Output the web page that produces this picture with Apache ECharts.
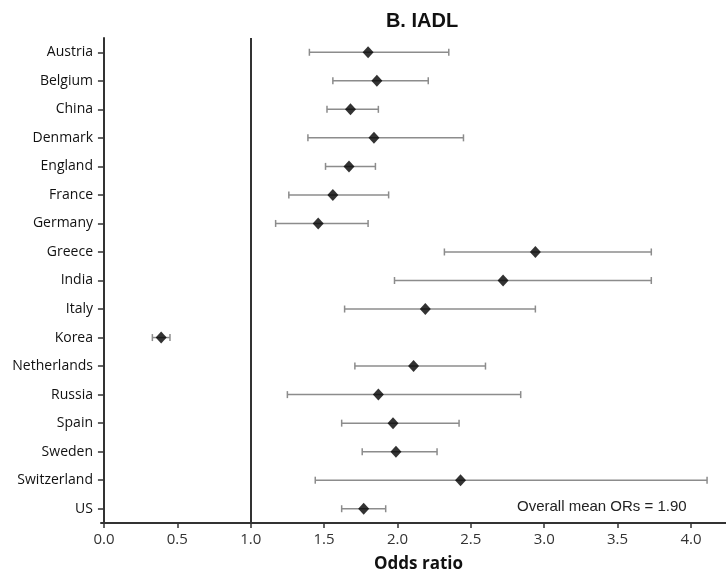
<!DOCTYPE html>
<html>
<head>
<meta charset="utf-8">
<style>
  html, body { margin: 0; padding: 0; background: #fff; }
  #chart { width: 726px; height: 575px; }
</style>
<script src="https://cdn.jsdelivr.net/npm/echarts@6/dist/echarts.min.js"></script>
</head>
<body>
<div id="chart"></div>
<script>
// ---- data ----
var countries = ['Austria', 'Belgium', 'China', 'Denmark', 'England', 'France', 'Germany', 'Greece',
  'India', 'Italy', 'Korea', 'Netherlands', 'Russia', 'Spain', 'Sweden', 'Switzerland', 'US'];
var oddsRatio = [1.80, 1.86, 1.68, 1.84, 1.67, 1.56, 1.46, 2.94, 2.72, 2.19, 0.39, 2.11, 1.87, 1.97, 1.99, 2.43, 1.77];
var ciLow     = [1.40, 1.56, 1.52, 1.39, 1.51, 1.26, 1.17, 2.32, 1.98, 1.64, 0.33, 1.71, 1.25, 1.62, 1.76, 1.44, 1.62];
var ciHigh    = [2.35, 2.21, 1.87, 2.45, 1.85, 1.94, 1.80, 3.73, 3.73, 2.94, 0.45, 2.60, 2.84, 2.42, 2.27, 4.11, 1.92];
var xTicks = [0, 0.5, 1, 1.5, 2, 2.5, 3, 3.5, 4];
var refLine = 1.0;
var meanText = 'Overall mean ORs = 1.90';

var FONT = '"Open Sans", "DejaVu Sans", sans-serif';
var ARIAL = '"Liberation Sans", Arial, sans-serif';

var chart = echarts.init(document.getElementById('chart'));

var ciData = countries.map(function(c, i) { return [c, ciLow[i], ciHigh[i]]; });
var pointData = countries.map(function(c, i) { return [oddsRatio[i], c]; });

// 误差线：横线 + 两端短竖线
function renderCI(params, api) {
  var y = api.value(0);
  var p1 = api.coord([api.value(1), y]);
  var p2 = api.coord([api.value(2), y]);
  var cap = 3.5;
  var style = { stroke: '#8c8c8c', lineWidth: 1.5 };
  return {
    type: 'group',
    children: [
      { type: 'line', shape: { x1: p1[0], y1: p1[1], x2: p2[0], y2: p2[1] }, style: style },
      { type: 'line', shape: { x1: p1[0], y1: p1[1] - cap, x2: p1[0], y2: p1[1] + cap }, style: style },
      { type: 'line', shape: { x1: p2[0], y1: p2[1] - cap, x2: p2[0], y2: p2[1] + cap }, style: style }
    ]
  };
}

chart.setOption({
  backgroundColor: '#fff',
  animation: false,
  title: {
    text: 'B. IADL', left: 417, top: 6, textAlign: 'center',
    textStyle: { fontFamily: ARIAL, fontWeight: 'bold', fontSize: 20, color: '#111' }
  },
  grid: { left: 101, right: 0, top: 38, bottom: 52, containLabel: false, outerBoundsMode: 'none' },
  xAxis: {
    type: 'value', min: -0.02, max: 4.239,
    name: 'Odds ratio', nameLocation: 'middle', nameGap: 33,
    nameTextStyle: { fontFamily: FONT, fontWeight: 'bold', fontSize: 17, color: '#111', padding: [0, 0, 0, 10] },
    axisLine: { show: true, lineStyle: { color: '#333', width: 2 } },
    axisTick: { show: true, length: 5, lineStyle: { color: '#333', width: 1.5 }, customValues: xTicks },
    axisLabel: {
      fontFamily: FONT, fontSize: 15, color: '#333', margin: 9,
      customValues: xTicks,
      formatter: function(v) { return v.toFixed(1); }
    },
    splitLine: { show: false }
  },
  yAxis: {
    type: 'category', data: countries, inverse: true,
    axisLine: { show: true, lineStyle: { color: '#333', width: 2 } },
    axisTick: { show: true, alignWithLabel: true, length: 6, lineStyle: { color: '#333', width: 1.5 } },
    axisLabel: { fontFamily: FONT, fontSize: 14, color: '#111', margin: 8 },
    splitLine: { show: false }
  },
  graphic: [{
    type: 'text', left: 517, top: 499,
    style: { text: meanText, font: '15px "Liberation Sans", Arial, sans-serif', fill: '#222' }
  }],
  series: [
    {
      type: 'custom', renderItem: renderCI, data: ciData,
      encode: { y: 0, x: [1, 2] }, silent: true, z: 2
    },
    {
      type: 'scatter', data: pointData, symbol: 'diamond', symbolSize: [11, 12],
      itemStyle: { color: '#000' }, z: 3, silent: true,
      markLine: {
        silent: true, symbol: 'none', label: { show: false },
        lineStyle: { color: '#333', width: 2, type: 'solid' },
        data: [{ xAxis: refLine }]
      }
    }
  ]
});
</script>
</body>
</html>
